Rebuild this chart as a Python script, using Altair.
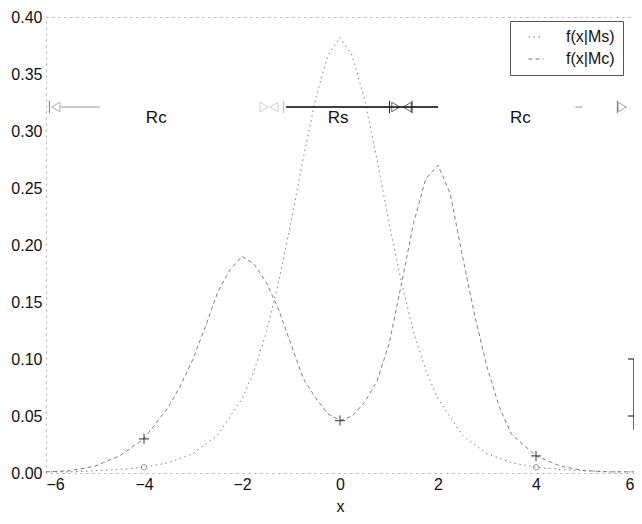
import altair as alt
import pandas as pd

# ---- data ----
series_names = ["f(x|Ms)", "f(x|Mc)"]

ms_x = [-6, -5.5, -5, -4.5, -4, -3.5, -3, -2.5, -2, -1.75, -1.5, -1.25, -1, -0.75, -0.5, -0.25,
        0, 0.25, 0.5, 0.75, 1, 1.25, 1.5, 1.75, 2, 2.5, 3, 3.5, 4, 4.5, 5, 5.5, 6]
ms_y = [0.001, 0.001, 0.002, 0.003, 0.005, 0.009, 0.017, 0.033, 0.065, 0.090, 0.124, 0.168, 0.220,
        0.276, 0.328, 0.366, 0.382, 0.366, 0.328, 0.276, 0.220, 0.168, 0.124, 0.090, 0.065, 0.033,
        0.017, 0.009, 0.005, 0.003, 0.002, 0.001, 0.001]

mc_x = [-6, -5.5, -5, -4.5, -4, -3.5, -3.25, -3, -2.75, -2.5, -2.25, -2, -1.75, -1.5, -1.25, -1,
        -0.75, -0.5, -0.25, 0, 0.25, 0.5, 0.75, 1, 1.25, 1.5, 1.75, 2, 2.25, 2.5, 2.75, 3, 3.25,
        3.5, 4, 4.5, 5, 5.5, 6]
mc_y = [0.001, 0.002, 0.006, 0.015, 0.030, 0.058, 0.077, 0.100, 0.128, 0.158, 0.178, 0.190, 0.183,
        0.167, 0.143, 0.113, 0.083, 0.066, 0.052, 0.046, 0.050, 0.062, 0.080, 0.113, 0.165, 0.219,
        0.258, 0.270, 0.245, 0.190, 0.138, 0.093, 0.058, 0.034, 0.015, 0.006, 0.002, 0.001, 0.001]

plus_x = [-4, 0, 4]
plus_y = [0.030, 0.046, 0.015]
circ_x = [-4, 4]
circ_y = [0.005, 0.005]

x_ticks = [-6, -4, -2, 0, 2, 4, 6]
y_ticks = [0.0, 0.05, 0.10, 0.15, 0.20, 0.25, 0.30, 0.35, 0.40]

# region annotation (row at f = 0.321)
arrow_y = 0.321
region_labels = ["Rc", "Rs", "Rc"]
region_label_x = [-3.75, -0.04, 3.68]
region_label_y = 0.311
tri_left_x = [-5.8, -1.35, 1.37]
tri_left_c = ["#888888", "#bbbbbb", "#222222"]
tri_right_x = [-1.55, 1.14, 5.76]
tri_right_c = ["#bbbbbb", "#222222", "#777777"]
bar_x = [-5.93, -1.15, 1.01, 1.47, 5.66]
bar_c = ["#777777", "#bbbbbb", "#222222", "#222222", "#777777"]
seg_x1 = [-5.7, -1.1, 4.8]
seg_x2 = [-4.9, 2.0, 4.95]
seg_c = ["#999999", "#000000", "#999999"]
seg_w = [1, 1.5, 1]

FONT = "Liberation Sans"

curves = pd.concat([
    pd.DataFrame({"x": ms_x, "f": ms_y, "series": series_names[0]}),
    pd.DataFrame({"x": mc_x, "f": mc_y, "series": series_names[1]}),
])

xs = alt.Scale(domain=[-6, 6], nice=False, zero=False)
ys = alt.Scale(domain=[0, 0.4], nice=False)

lines = alt.Chart(curves).mark_line(strokeWidth=1, color="#808080").encode(
    x=alt.X("x:Q", scale=xs, axis=alt.Axis(values=x_ticks, title="x", format="d")),
    y=alt.Y("f:Q", scale=ys, axis=alt.Axis(values=y_ticks, format=".2f", title=None)),
    strokeDash=alt.StrokeDash(
        "series:N",
        scale=alt.Scale(domain=series_names, range=[[1.5, 3.5], [4, 3]]),
        legend=alt.Legend(
            title=None, orient="none", legendX=464, legendY=4,
            symbolType="stroke", symbolStrokeColor="#777777", symbolStrokeWidth=1,
            symbolSize=225, symbolOffset=10, labelFont=FONT, labelFontSize=16,
            labelColor="#111111", labelOffset=22, padding=8, rowPadding=6,
            strokeColor="#555555", fillColor="white",
        ),
    ),
)

plus_df = pd.DataFrame({"x": plus_x, "f": plus_y})
plus = alt.Chart(plus_df).mark_point(
    shape="M-1,0H1M0,-1V1", filled=False, size=100, color="#111111", strokeWidth=1.2
).encode(x=alt.X("x:Q", scale=xs), y=alt.Y("f:Q", scale=ys))

circ_df = pd.DataFrame({"x": circ_x, "f": circ_y})
circ = alt.Chart(circ_df).mark_point(
    shape="circle", filled=False, size=30, color="#777777", strokeWidth=1
).encode(x=alt.X("x:Q", scale=xs), y=alt.Y("f:Q", scale=ys))

tl_df = pd.DataFrame({"x": tri_left_x, "f": arrow_y, "c": tri_left_c})
tl = alt.Chart(tl_df).mark_point(shape="triangle-left", filled=False, size=90, strokeWidth=1).encode(
    x=alt.X("x:Q", scale=xs), y=alt.Y("f:Q", scale=ys), color=alt.Color("c:N", scale=None))

tr_df = pd.DataFrame({"x": tri_right_x, "f": arrow_y, "c": tri_right_c})
tr = alt.Chart(tr_df).mark_point(shape="triangle-right", filled=False, size=90, strokeWidth=1).encode(
    x=alt.X("x:Q", scale=xs), y=alt.Y("f:Q", scale=ys), color=alt.Color("c:N", scale=None))

bar_df = pd.DataFrame({"x": bar_x, "f1": arrow_y - 0.0055, "f2": arrow_y + 0.0055, "c": bar_c})
bars = alt.Chart(bar_df).mark_rule(strokeWidth=1).encode(
    x=alt.X("x:Q", scale=xs), y=alt.Y("f1:Q", scale=ys), y2="f2:Q",
    color=alt.Color("c:N", scale=None))

seg_df = pd.DataFrame({"x1": seg_x1, "x2": seg_x2, "f": arrow_y, "c": seg_c, "w": seg_w})
segs = alt.Chart(seg_df).mark_rule().encode(
    x=alt.X("x1:Q", scale=xs), x2="x2:Q", y=alt.Y("f:Q", scale=ys),
    color=alt.Color("c:N", scale=None), strokeWidth=alt.StrokeWidth("w:Q", scale=None))

lab_df = pd.DataFrame({"x": region_label_x, "f": region_label_y, "t": region_labels})
labs = alt.Chart(lab_df).mark_text(font=FONT, fontSize=17, color="#111111", baseline="middle",
                                   align="center").encode(
    x=alt.X("x:Q", scale=xs), y=alt.Y("f:Q", scale=ys), text="t:N")

# dark piece of the right frame with its two ticks
edge_df = pd.DataFrame({"x": [6], "f1": [0.038], "f2": [0.100]})
edge = alt.Chart(edge_df).mark_rule(color="#333333", strokeWidth=1.5).encode(
    x=alt.X("x:Q", scale=xs), y=alt.Y("f1:Q", scale=ys), y2="f2:Q")
etick_df = pd.DataFrame({"x1": [5.88, 5.88], "x2": [6, 6], "f": [0.10, 0.05]})
eticks = alt.Chart(etick_df).mark_rule(color="#333333", strokeWidth=1.2).encode(
    x=alt.X("x1:Q", scale=xs), x2="x2:Q", y=alt.Y("f:Q", scale=ys))

chart = alt.layer(lines, plus, circ, segs, bars, tl, tr, labs, edge, eticks).properties(
    width=588, height=456,
    autosize=alt.AutoSizeParams(type="none"),
    padding={"left": 38, "top": 9, "right": 0, "bottom": 43},
    background="white",
).configure_view(
    stroke="#aaaaaa", strokeDash=[2, 4], strokeWidth=1
).configure_axis(
    labelFont=FONT, labelFontSize=16, labelColor="#111111",
    titleFont=FONT, titleFontSize=16, titleFontWeight="normal", titleColor="#111111",
    grid=False, ticks=False, domain=False,
).configure_axisX(
    labelPadding=3, titlePadding=6,
).configure_axisY(
    labelPadding=4,
)

chart.save("out.html", embed_options={"renderer": "svg", "actions": False})
